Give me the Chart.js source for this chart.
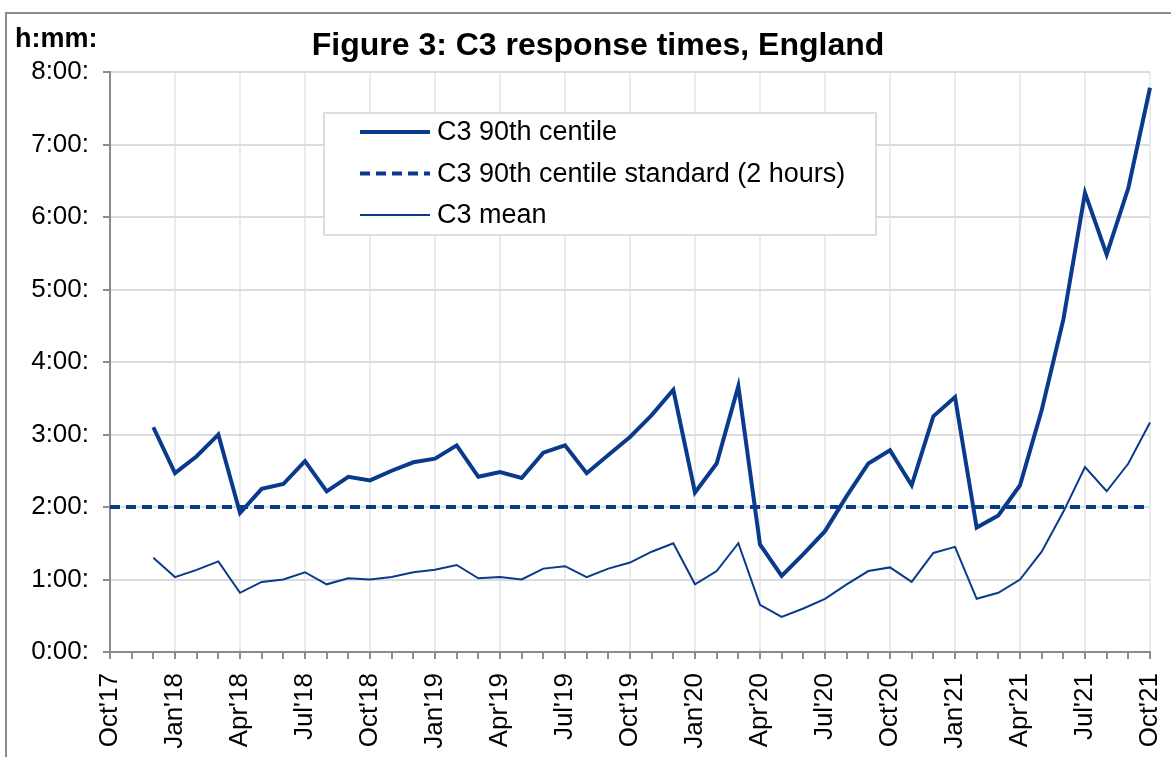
<!DOCTYPE html>
<html>
<head>
<meta charset="utf-8">
<script src="https://cdn.jsdelivr.net/npm/chart.js@4/dist/chart.umd.min.js"></script>
<style>
  html, body { margin: 0; padding: 0; background: #fff; }
  #wrap { position: relative; width: 1171px; height: 757px; overflow: hidden; }
  #frame {
    position: absolute; left: 5px; top: 12px; width: 1200px; height: 800px;
    border-left: 2px solid #8c8c8c; border-top: 2px solid #8c8c8c;
  }
  canvas { position: absolute; left: 0; top: 0; }
</style>
</head>
<body>
<div id="wrap">
  <div id="frame"></div>
  <canvas id="chart" width="1171" height="757"></canvas>
</div>
<script>
// Months, Oct'17 .. Oct'21
const months = [
  "Oct'17", "Nov'17", "Dec'17",
  "Jan'18", "Feb'18", "Mar'18", "Apr'18", "May'18", "Jun'18", "Jul'18", "Aug'18", "Sep'18", "Oct'18", "Nov'18", "Dec'18",
  "Jan'19", "Feb'19", "Mar'19", "Apr'19", "May'19", "Jun'19", "Jul'19", "Aug'19", "Sep'19", "Oct'19", "Nov'19", "Dec'19",
  "Jan'20", "Feb'20", "Mar'20", "Apr'20", "May'20", "Jun'20", "Jul'20", "Aug'20", "Sep'20", "Oct'20", "Nov'20", "Dec'20",
  "Jan'21", "Feb'21", "Mar'21", "Apr'21", "May'21", "Jun'21", "Jul'21", "Aug'21", "Sep'21", "Oct'21"
];

// Values in minutes (no data for Oct'17 and Nov'17)
const centile90 = [
  null, null, 186,
  148, 162, 180, 115, 135, 139, 158, 133, 145, 142, 150, 157,
  160, 171, 145, 149, 144, 165, 171, 148, 163, 178, 196, 217,
  132, 156, 220, 89, 63, 81, 100, 129, 156, 167, 138, 195,
  211, 103, 113, 138, 200, 275, 380, 329, 384, 467
];

const meanTime = [
  null, null, 78,
  62, 68, 75, 49, 58, 60, 66, 56, 61, 60, 62, 66,
  68, 72, 61, 62, 60, 69, 71, 62, 69, 74, 83, 90,
  56, 67, 90, 39, 29, 36, 44, 56, 67, 70, 58, 82,
  87, 44, 49, 60, 83, 116, 153, 133, 156, 190
];

const standardMinutes = 120; // 2 hours

const navy = "#0a3a8c";
const font = "'Liberation Sans', Arial, sans-serif";

function fmtMinutes(v) {
  const h = Math.floor(v / 60);
  const m = Math.round(v % 60);
  return `${h}:${String(m).padStart(2, "0")}:`;
}

// Title, unit label and the boxed legend inside the plot
const decorations = {
  id: "decorations",
  afterDraw(chart) {
    const c = chart.ctx;
    c.save();
    c.fillStyle = "#000";
    c.textBaseline = "middle";

    c.font = `bold 32px ${font}`;
    c.textAlign = "center";
    c.fillText("Figure 3: C3 response times, England", 598, 46);

    c.font = `bold 27px ${font}`;
    c.textAlign = "left";
    c.fillText("h:mm:", 15, 40);

    // legend box
    const bx = 324, by = 113, bw = 552, bh = 122;
    c.fillStyle = "#fff";
    c.fillRect(bx, by, bw, bh);
    c.strokeStyle = "#d4d4d4";
    c.lineWidth = 1.5;
    c.strokeRect(bx, by, bw, bh);

    c.font = `27px ${font}`;
    [0, 1, 2].forEach((di, row) => {
      const ds = chart.data.datasets[di];
      const y = 132 + row * 41.5;
      c.beginPath();
      c.strokeStyle = ds.borderColor;
      c.lineWidth = ds.borderWidth;
      c.setLineDash(ds.borderDash || []);
      c.moveTo(360, y);
      c.lineTo(430, y);
      c.stroke();
      c.setLineDash([]);
      c.fillStyle = "#000";
      c.fillText(ds.label, 437, y + 1);
    });
    c.restore();
  }
};

new Chart(document.getElementById("chart"), {
  type: "line",
  data: {
    labels: months,
    datasets: [
      {
        label: "C3 90th centile",
        data: centile90,
        borderColor: navy,
        borderWidth: 4,
        pointRadius: 0,
        tension: 0,
        fill: false,
      },
      {
        label: "C3 90th centile standard (2 hours)",
        data: months.map(() => standardMinutes),
        borderColor: navy,
        borderWidth: 4,
        borderDash: [10, 6],
        pointRadius: 0,
        fill: false,
      },
      {
        label: "C3 mean",
        data: meanTime,
        borderColor: navy,
        borderWidth: 2,
        pointRadius: 0,
        tension: 0,
        fill: false,
      },
    ],
  },
  options: {
    responsive: false,
    animation: false,
    layout: { padding: { left: 0, right: 21, top: 72, bottom: 0 } },
    plugins: {
      legend: { display: false },
      title: { display: false },
      tooltip: { enabled: false },
    },
    scales: {
      x: {
        offset: false,
        afterFit: (scale) => {
          scale.height = 105;
          scale.paddingLeft = 0;
          scale.paddingRight = 0;
        },
        border: { color: "#8c8c8c", width: 2 },
        grid: {
          color: (ctx) => (ctx.index % 3 === 0 ? "#ebebeb" : "rgba(0,0,0,0)"),
          lineWidth: 2,
          tickColor: "#8c8c8c",
          tickLength: 7,
          drawTicks: true,
        },
        ticks: {
          autoSkip: false,
          maxRotation: 90,
          minRotation: 90,
          padding: 14,
          color: "#000",
          font: { family: font, size: 26 },
          callback: (_, i) => (i % 3 === 0 ? months[i] : ""),
        },
      },
      y: {
        min: 0,
        max: 480,
        afterFit: (scale) => { scale.width = 110; },
        border: { color: "#8c8c8c", width: 2 },
        grid: {
          color: "#dcdcdc",
          lineWidth: 2,
          tickColor: "#8c8c8c",
          tickLength: 7,
        },
        ticks: {
          stepSize: 60,
          padding: 14,
          color: "#000",
          font: { family: font, size: 26 },
          callback: (v) => fmtMinutes(v),
        },
      },
    },
  },
  plugins: [decorations],
});
</script>
</body>
</html>
